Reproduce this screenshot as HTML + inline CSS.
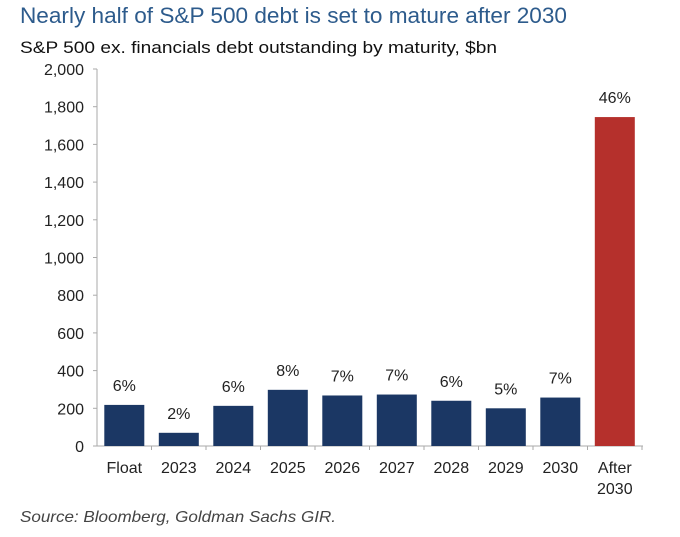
<!DOCTYPE html>
<html><head><meta charset="utf-8"><style>
body{margin:0;background:#fff;width:680px;height:532px;overflow:hidden}
svg text{font-family:"Liberation Sans",sans-serif}
</style></head><body>
<svg width="680" height="532" xmlns="http://www.w3.org/2000/svg">
<text x="20" y="23" font-size="22" fill="#2d5b8c" textLength="547" lengthAdjust="spacingAndGlyphs">Nearly half of S&amp;P 500 debt is set to mature after 2030</text>
<text x="20" y="53" font-size="17" fill="#111" textLength="477" lengthAdjust="spacingAndGlyphs">S&amp;P 500 ex. financials debt outstanding by maturity, $bn</text>
<g stroke="#aaa" stroke-width="1">
<line x1="97" y1="69" x2="97" y2="446"/>
<line x1="97" y1="446" x2="643" y2="446"/>
</g>
<g font-size="16" fill="#222" text-anchor="end" id="yl"></g>
<g id="bars"></g>
<text x="20" y="522" font-size="16" font-style="italic" fill="#444" textLength="316" lengthAdjust="spacingAndGlyphs">Source: Bloomberg, Goldman Sachs GIR.</text>
<script>
var ns="http://www.w3.org/2000/svg";
function el(p,t,a,txt){var e=document.createElementNS(ns,t);for(var k in a)e.setAttribute(k,a[k]);if(txt)e.textContent=txt;p.appendChild(e);return e;}
var s=document.querySelector('svg');
var yl=document.getElementById('yl');
for(var i=0;i<=10;i++){var v=i*200,y=446-v*0.1885;
el(yl,'text',{x:84,y:y+6},v.toLocaleString('en-US'));
el(s,'line',{x1:93,x2:97,y1:y,y2:y,stroke:'#aaa'});}
var d=[["Float",218,"6%"],["2023",70,"2%"],["2024",213,"6%"],["2025",298,"8%"],["2026",268,"7%"],["2027",273,"7%"],["2028",240,"6%"],["2029",200,"5%"],["2030",257,"7%"],["After",1745,"46%"]];
var b=document.getElementById('bars');
d.forEach(function(r,i){var cx=124.3+i*54.5,h=r[1]*0.1885,top=446-h;
el(b,'rect',{x:cx-20,y:top,width:40,height:h,fill:i==9?'#b5302c':'#1b3764'});
el(b,'text',{x:cx,y:top-14,'font-size':16,fill:'#222','text-anchor':'middle'},r[2]);
el(b,'text',{x:cx,y:473,'font-size':16,fill:'#222','text-anchor':'middle'},r[0]);
el(s,'line',{x1:97+(i+1)*54.5,x2:97+(i+1)*54.5,y1:446,y2:450,stroke:'#aaa'});
});
el(b,'text',{x:124.3+9*54.5,y:494,'font-size':16,fill:'#222','text-anchor':'middle'},"2030");
</script>
</svg>
</body></html>
